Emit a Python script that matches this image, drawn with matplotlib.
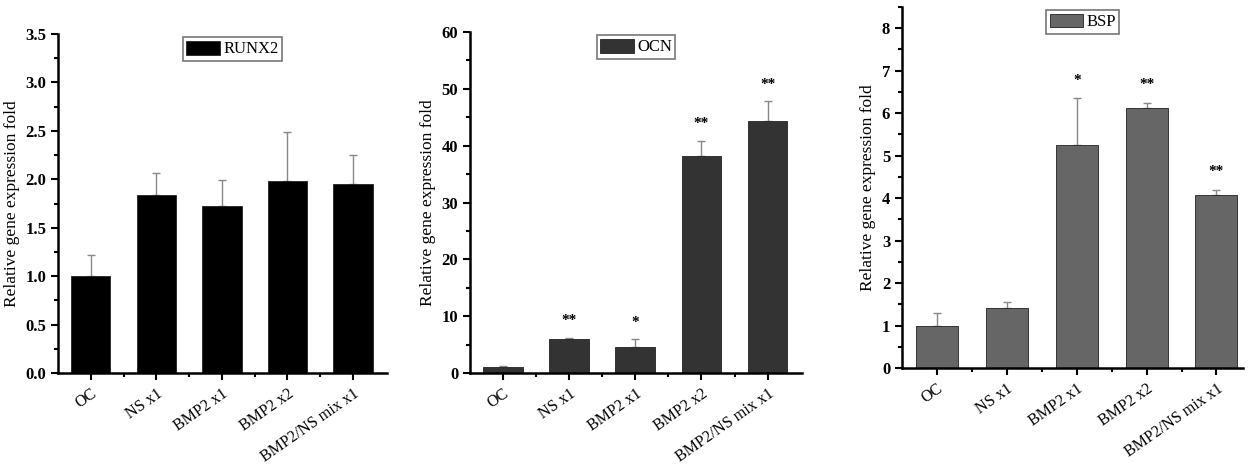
import numpy as np
import matplotlib
matplotlib.use("Agg")
import matplotlib.pyplot as plt
from matplotlib.ticker import MultipleLocator, FormatStrFormatter

plt.rcParams['font.family'] = ['Liberation Serif', 'DejaVu Serif']

groups = ['OC', 'NS x1', 'BMP2 x1', 'BMP2 x2', 'BMP2/NS mix x1']

runx2 = [1.00, 1.84, 1.72, 1.98, 1.95]
runx2_err = [0.22, 0.23, 0.27, 0.51, 0.30]

ocn = [1.0, 5.9, 4.5, 38.2, 44.3]
ocn_err = [0.15, 0.3, 1.4, 2.7, 3.5]
ocn_sig = ['', '**', '*', '**', '**']

bsp = [1.00, 1.42, 5.24, 6.12, 4.08]
bsp_err = [0.30, 0.13, 1.11, 0.13, 0.11]
bsp_sig = ['', '', '*', '**', '**']

fig = plt.figure(figsize=(12.6, 4.65), dpi=100)
W, H = 1260, 465

def make_ax(l, r, t, b):
    return fig.add_axes([l / W, 1 - b / H, (r - l) / W, (b - t) / H])

panels = [
    # (axes box, values, errors, stars, colour, label, ylim, major, minor, fmt, xmax, legend x)
    ((58, 387, 34, 373), runx2, runx2_err, None, '#000000', 'RUNX2', 3.5, 0.5, 0.25, '%.1f', 4.52, 0.53),
    ((470, 802, 32, 373), ocn, ocn_err, ocn_sig, '#333333', 'OCN', 60, 10, 5, '%d', 4.52, 0.5),
    ((902, 1243, 7, 368), bsp, bsp_err, bsp_sig, '#666666', 'BSP', 8.5, 1, 0.5, '%d', 4.38, 0.53),
]

for box, vals, errs, stars, col, name, ytop, major, minor, fmt, xmax, lx in panels:
    ax = make_ax(*box)
    x = np.arange(len(groups))
    ax.bar(x, vals, width=0.6, color=col, edgecolor='#222222', linewidth=0.6,
           label=name, zorder=2)
    ax.errorbar(x, vals, yerr=[np.zeros(len(vals)), errs], fmt='none',
                ecolor='#888888', elinewidth=1.0, capsize=3, capthick=1.0, zorder=1)
    if stars:
        for xi, v, e, s in zip(x, vals, errs, stars):
            if s:
                ax.text(xi, v + e + ytop * 0.05, s, ha='center', va='center',
                        fontsize=11, fontweight='bold')
    ax.set_xlim(-0.5, xmax)
    ax.set_ylim(0, ytop)
    ax.yaxis.set_major_locator(MultipleLocator(major))
    ax.yaxis.set_minor_locator(MultipleLocator(minor))
    ax.yaxis.set_major_formatter(FormatStrFormatter(fmt))
    ax.set_xticks(x)
    ax.set_xticks(x[:-1] + 0.5, minor=True)
    ax.set_xticklabels(groups, rotation=35, ha='right', rotation_mode='anchor',
                       fontsize=11.5)
    for lab in ax.get_yticklabels():
        lab.set_fontweight('bold')
        lab.set_fontsize(12)
    ax.tick_params(which='both', direction='out', width=1.5)
    ax.tick_params(which='major', length=5)
    ax.tick_params(which='minor', length=3)
    ax.tick_params(axis='x', which='major', pad=4)
    for side in ('top', 'right'):
        ax.spines[side].set_visible(False)
    for side in ('left', 'bottom'):
        ax.spines[side].set_linewidth(1.8)
    ax.set_ylabel('Relative gene expression fold', fontsize=12.5)
    leg = ax.legend(loc='upper center', bbox_to_anchor=(lx, 1.0), fontsize=12,
                    fancybox=False, handlelength=2.0, handleheight=0.9,
                    borderpad=0.2, handletextpad=0.2, framealpha=1,
                    borderaxespad=0.2)
    leg.get_frame().set_edgecolor('#777777')
    leg.get_frame().set_linewidth(1.2)

fig.savefig('out.png', dpi=100)
